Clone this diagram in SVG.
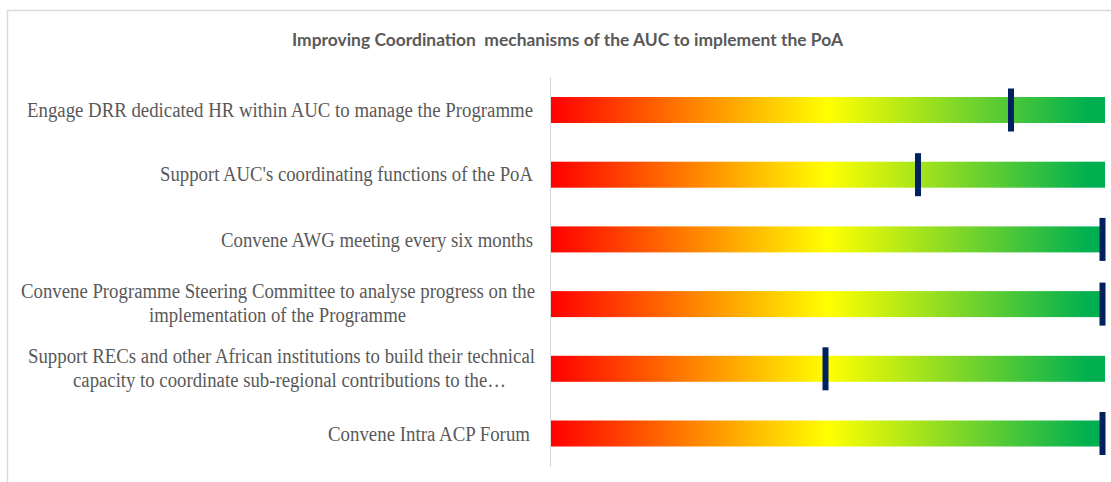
<svg xmlns="http://www.w3.org/2000/svg" width="1111" height="482" viewBox="0 0 1111 482">
  <style>
    .lbl { font-family: "Liberation Serif", "Times New Roman", serif; font-size: 20.5px; fill: #595959; }
    .title { font-family: Lato, "Liberation Sans", sans-serif; font-size: 16.5px; font-weight: bold; fill: #595959; white-space: pre; }
    .bar { fill: url(#grad); }
    .mark { fill: #002060; }
  </style>
  <defs>
    <linearGradient id="grad" x1="0" y1="0" x2="1" y2="0">
      <stop offset="0" stop-color="#FF0000"/>
      <stop offset="0.5" stop-color="#FFFF00"/>
      <stop offset="0.97" stop-color="#00B050"/>
      <stop offset="1" stop-color="#00B050"/>
    </linearGradient>
  </defs>
  <rect x="0" y="0" width="1111" height="482" fill="#FFFFFF"/>
  <rect x="7.5" y="10.5" width="1120" height="490" fill="none" stroke="#D9D9D9" stroke-width="1.5"/>
  <text class="title" x="292" y="46" textLength="551" lengthAdjust="spacingAndGlyphs" xml:space="preserve">Improving Coordination  mechanisms of the AUC to implement the PoA</text>
  <g id="axis">
    <line x1="550.5" y1="77" x2="550.5" y2="467" stroke="#D9D9D9" stroke-width="1"/>
  </g>
  <g id="row1">
    <text class="lbl" x="27" y="117" textLength="506" lengthAdjust="spacingAndGlyphs">Engage DRR dedicated HR within AUC to manage the Programme</text>
    <rect class="bar" x="551" y="97" width="554" height="26"/>
    <rect class="mark" x="1008" y="88.5" width="6" height="43"/>
  </g>
  <g id="row2">
    <text class="lbl" x="160" y="181" textLength="373" lengthAdjust="spacingAndGlyphs">Support AUC's coordinating functions of the PoA</text>
    <rect class="bar" x="551" y="161.7" width="554" height="26"/>
    <rect class="mark" x="915" y="153.2" width="6" height="43"/>
  </g>
  <g id="row3">
    <text class="lbl" x="221" y="247" textLength="312" lengthAdjust="spacingAndGlyphs">Convene AWG meeting every six months</text>
    <rect class="bar" x="551" y="226.4" width="554" height="26"/>
    <rect class="mark" x="1099.5" y="217.9" width="6" height="43"/>
  </g>
  <g id="row4">
    <text class="lbl" x="21" y="298" textLength="514" lengthAdjust="spacingAndGlyphs">Convene Programme Steering Committee to analyse progress on the</text>
    <text class="lbl" x="149" y="322" textLength="257" lengthAdjust="spacingAndGlyphs">implementation of the Programme</text>
    <rect class="bar" x="551" y="291.1" width="554" height="26"/>
    <rect class="mark" x="1099.5" y="282.6" width="6" height="43"/>
  </g>
  <g id="row5">
    <text class="lbl" x="28" y="363" textLength="507" lengthAdjust="spacingAndGlyphs">Support RECs and other African institutions to build their technical</text>
    <text class="lbl" x="73" y="387" textLength="433" lengthAdjust="spacingAndGlyphs">capacity to coordinate sub-regional contributions to the…</text>
    <rect class="bar" x="551" y="355.8" width="554" height="26"/>
    <rect class="mark" x="822.5" y="347.3" width="6" height="43"/>
  </g>
  <g id="row6">
    <text class="lbl" x="328" y="441" textLength="202" lengthAdjust="spacingAndGlyphs">Convene Intra ACP Forum</text>
    <rect class="bar" x="551" y="420.5" width="554" height="26"/>
    <rect class="mark" x="1099.5" y="412" width="6" height="43"/>
  </g>
</svg>
